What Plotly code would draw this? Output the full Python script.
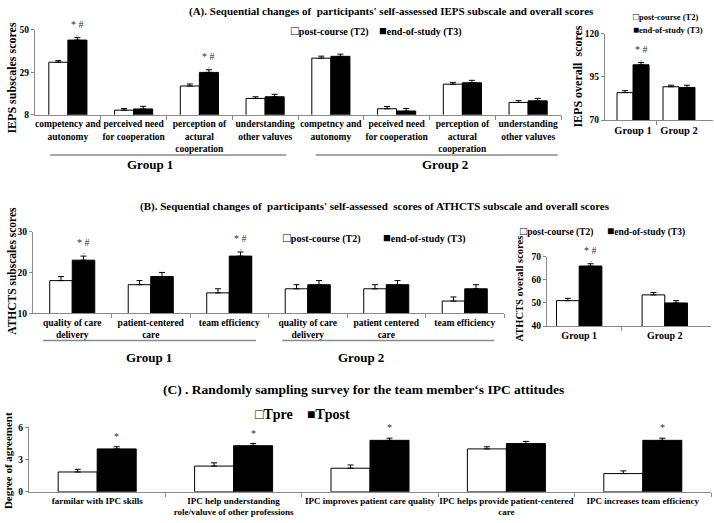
import plotly.graph_objects as go

# (A) IEPS subscales, post-course (T2) vs end-of-study (T3)
ieps_cats = ["competency and<br>autonomy", "perceived need<br>for cooperation",
             "perception of<br>actural<br>cooperation", "understanding<br>other valuves",
             "competncy and<br>autonomy", "peceived need<br>for cooperation",
             "perception of<br>actural<br>cooperation", "understanding<br>other valuves"]
ieps_t2 = [33.9, 10.3, 22.2, 16.1, 35.9, 11.0, 23.1, 14.1]
ieps_t2_err = [0.8, 0.8, 1.0, 0.8, 1.0, 1.1, 0.9, 0.9]
ieps_t3 = [44.8, 10.9, 28.9, 16.9, 36.8, 9.9, 23.8, 14.9]
ieps_t3_err = [1.2, 1.3, 1.3, 1.2, 1.1, 1.2, 1.2, 1.2]
ieps_ticks = [8, 29, 50]

# (A) IEPS overall
groups = ["Group 1", "Group 2"]
ieps_all_t2 = [85.9, 89.3]
ieps_all_t2_err = [1.1, 0.9]
ieps_all_t3 = [102.0, 88.9]
ieps_all_t3_err = [1.3, 1.3]
ieps_all_ticks = [70, 95, 120]

# (B) ATHCTS subscales
athcts_cats = ["quality of care<br>delivery", "patient-centered<br>care", "team efficiency",
               "quality of care<br>delivery", "patient centered<br>care", "team efficiency"]
athcts_t2 = [18, 17, 15, 16, 16, 13]
athcts_t2_err = [1, 1, 1, 1, 1, 1]
athcts_t3 = [23, 19, 24, 17, 17, 16]
athcts_t3_err = [1, 1, 1, 1, 1, 1]
athcts_ticks = [10, 20, 30]

# (B) ATHCTS overall
athcts_all_t2 = [51, 53.5]
athcts_all_t2_err = [1, 1]
athcts_all_t3 = [66, 50]
athcts_all_t3_err = [1, 1]
athcts_all_ticks = [40, 50, 60, 70]

# (C) team member IPC attitudes
ipc_cats = ["farmilar with IPC skills",
            "IPC help understanding<br>role/valuve of other professions",
            "IPC improves patient care quality",
            "IPC helps provide patient-centered<br>care",
            "IPC increases team efficiency"]
ipc_pre = [1.85, 2.4, 2.2, 4.0, 1.7]
ipc_pre_err = [0.25, 0.3, 0.3, 0.2, 0.25]
ipc_post = [4.0, 4.3, 4.8, 4.5, 4.8]
ipc_post_err = [0.2, 0.2, 0.2, 0.2, 0.2]
ipc_ticks = [0, 3, 6]

W, H = 714, 523
GRAY = "#8a8a8a"
SERIF = "Liberation Serif"


def px(x):
    return x / W


def py(y):
    return 1 - y / H


fig = go.Figure()


def add_pair(n, v1, e1, v2, e2, w, xa, ya):
    x = list(range(n))
    for vals, errs, fill, off in [(v1, e1, "white", -w), (v2, e2, "black", 0)]:
        fig.add_trace(go.Bar(
            x=x, y=vals, width=w, offset=off, xaxis=xa, yaxis=ya, showlegend=False,
            marker=dict(color=fill, line=dict(color="black", width=1)),
            error_y=dict(type="data", symmetric=False, array=errs, arrayminus=[0] * n,
                         color="black", thickness=1, width=3)))


def x_axis(dom, n, rng, labels, anchor, size=9.5):
    return dict(domain=[px(dom[0]), px(dom[1])], range=rng, anchor=anchor,
                tickmode="array", tickvals=list(range(n)), ticktext=labels, tickangle=0,
                ticks="", showline=True, linecolor=GRAY, linewidth=1,
                showgrid=False, zeroline=False,
                tickfont=dict(size=size, family=SERIF, weight="bold"),
                minor=dict(tickmode="array", tickvals=[i + 0.5 for i in range(n)],
                           ticks="outside", ticklen=4, tickcolor=GRAY, showgrid=False))


def y_axis(dom, rng, ticks, anchor):
    return dict(domain=[py(dom[1]), py(dom[0])], range=rng, anchor=anchor,
                tickmode="array", tickvals=ticks, ticks="outside", ticklen=3,
                tickcolor=GRAY, showline=True, linecolor=GRAY, linewidth=1,
                showgrid=False, zeroline=False,
                tickfont=dict(size=9.5, family=SERIF, weight="bold"))


wa, wai, wb, wbi, wc = 0.29, 0.348, 0.287, 0.265, 0.286
add_pair(8, ieps_t2, ieps_t2_err, ieps_t3, ieps_t3_err, wa, "x", "y")
add_pair(2, ieps_all_t2, ieps_all_t2_err, ieps_all_t3, ieps_all_t3_err, wai, "x2", "y2")
add_pair(6, athcts_t2, athcts_t2_err, athcts_t3, athcts_t3_err, wb, "x3", "y3")
add_pair(2, athcts_all_t2, athcts_all_t2_err, athcts_all_t3, athcts_all_t3_err, wbi, "x4", "y4")
add_pair(5, ipc_pre, ipc_pre_err, ipc_post, ipc_post_err, wc, "x5", "y5")

fig.update_layout(
    width=W, height=H, margin=dict(l=0, r=0, t=0, b=0),
    paper_bgcolor="white", plot_bgcolor="white", barmode="overlay",
    font=dict(family=SERIF, color="black", weight="bold"),
    xaxis=x_axis((35, 561), 8, [-0.5, 7.5], ieps_cats, "y"),
    yaxis=y_axis((25, 112), [8, 50], ieps_ticks, "x"),
    xaxis2=x_axis((605, 713), 2, [-0.61, 1.74], groups, "y2", size=10.5),
    yaxis2=y_axis((29.3, 117.3), [70, 120], ieps_all_ticks, "x2"),
    xaxis3=x_axis((33, 504), 6, [-0.5, 5.5], athcts_cats, "y3"),
    yaxis3=y_axis((231, 314.3), [10, 30], athcts_ticks, "x3"),
    xaxis4=x_axis((547, 711), 2, [-0.376, 1.54], groups, "y4", size=10),
    yaxis4=y_axis((256.7, 327.3), [40, 70], athcts_all_ticks, "x4"),
    xaxis5=x_axis((29, 711), 5, [-0.5, 4.5], ipc_cats, "y5", size=9),
    yaxis5=y_axis((430.7, 496.3), [0, 6], ipc_ticks, "x5"),
)
fig.layout.xaxis2.minor.tickvals = [0.5]
fig.layout.xaxis4.minor.tickvals = [0.5]

ann = []


def text(x, y, s, size, xanchor="center", angle=0, weight="bold"):
    ann.append(dict(x=px(x), y=py(y), xref="paper", yref="paper", text=s, showarrow=False,
                    xanchor=xanchor, yanchor="middle", textangle=angle,
                    font=dict(size=size, family=SERIF, color="black", weight=weight)))


# titles
text(391, 7, "(A). Sequential changes of  participants' self-assessed IEPS subscale and overall scores", 11)
text(375, 205, "(B). Sequential changes of  participants' self-assessed  scores of ATHCTS subscale and overall scores", 11)
text(363, 392, "(C) . Randomly sampling survey for the team member\u2018s IPC attitudes", 13.5)

# axis titles
text(12, 75, "IEPS subscales scores", 12, angle=-90)
text(578, 73, "IEPS overall  scores", 12, angle=-90)
text(12, 271, "ATHCTS subscales scores", 11.5, angle=-90)
text(519, 289, "ATHCTS overall scores", 10.5, angle=-90)
text(8, 465, "Degree of agreement", 11, angle=-90)


def sq(ch, size):
    return "<span style='font-size:%dpx'>%s</span>" % (size, ch)


# legends
for x, y, s, size in [(289, 26, sq("\u25a1", 13) + "post-course (T2)", 10),
                      (377, 26, sq("\u25a0", 13) + "end-of-study (T3)", 10),
                      (631, 12, sq("\u25a1", 10) + "post-course (T2)", 8.5),
                      (631, 25, sq("\u25a0", 10) + "end-of-study (T3)", 8.5),
                      (281, 237, sq("\u25a1", 13) + "post-course (T2)", 10),
                      (381, 237, sq("\u25a0", 13) + "end-of-study (T3)", 10),
                      (518, 230, sq("\u25a1", 12) + "post-course (T2)", 9.5),
                      (605, 230, sq("\u25a0", 12) + "end-of-study (T3)", 9.5),
                      (253, 417, "\u25a1Tpre", 14), (305, 417, "\u25a0Tpost", 14)]:
    text(x, y, s, size, xanchor="left")

# group lines and labels under the subscale panels
shapes = []
for xa, x0, x1, y in [("x", -0.27, 3.32, 153), ("x", 3.77, 7.45, 153),
                      ("x3", -0.37, 2.34, 342), ("x3", 2.675, 5.376, 342)]:
    shapes.append(dict(type="line", xref=xa, yref="paper", x0=x0, x1=x1, y0=py(y), y1=py(y),
                       line=dict(color=GRAY, width=1.5)))
for xa, xv, y, s in [("x", 1.25, 163, "Group 1"), ("x", 5.73, 163, "Group 2"),
                     ("x3", 0.98, 359, "Group 1"), ("x3", 3.68, 359, "Group 2")]:
    ann.append(dict(x=xv, y=py(y), xref=xa, yref="paper", text=s, showarrow=False,
                    yanchor="middle", font=dict(size=13, family=SERIF, color="black", weight="bold")))

# significance marks above the T3 / Tpost bars
marks = [("x", "y", wa, 0, ieps_t3, ieps_t3_err, "* #"), ("x", "y", wa, 2, ieps_t3, ieps_t3_err, "* #"),
         ("x2", "y2", wai, 0, ieps_all_t3, ieps_all_t3_err, "* #"),
         ("x3", "y3", wb, 0, athcts_t3, athcts_t3_err, "* #"), ("x3", "y3", wb, 2, athcts_t3, athcts_t3_err, "* #"),
         ("x4", "y4", wbi, 0, athcts_all_t3, athcts_all_t3_err, "* #"),
         ("x5", "y5", wc, 0, ipc_post, ipc_post_err, "*"), ("x5", "y5", wc, 1, ipc_post, ipc_post_err, "*"),
         ("x5", "y5", wc, 2, ipc_post, ipc_post_err, "*"), ("x5", "y5", wc, 4, ipc_post, ipc_post_err, "*")]
for xa, ya, w, i, vals, errs, s in marks:
    ann.append(dict(x=i + w / 2, y=vals[i] + errs[i], xref=xa, yref=ya, text=s, showarrow=False,
                    yanchor="bottom", yshift=6 if "#" in s else 3,
                    font=dict(size=10, family=SERIF, color="#333333", weight="normal")))
    if "#" in s:
        ann.append(dict(x=i + w / 2, y=vals[i] + errs[i], xref=xa, yref=ya, text=",", showarrow=False,
                        yanchor="bottom", yshift=-2,
                        font=dict(size=7, family=SERIF, color="#333333", weight="normal")))

fig.update_layout(annotations=ann, shapes=shapes)
# the page body gets a default 8px margin; drop it so the figure sits at the window's corner
fig.write_html("out.html", config={"displayModeBar": False},
               post_script="document.body.style.margin='0';")
